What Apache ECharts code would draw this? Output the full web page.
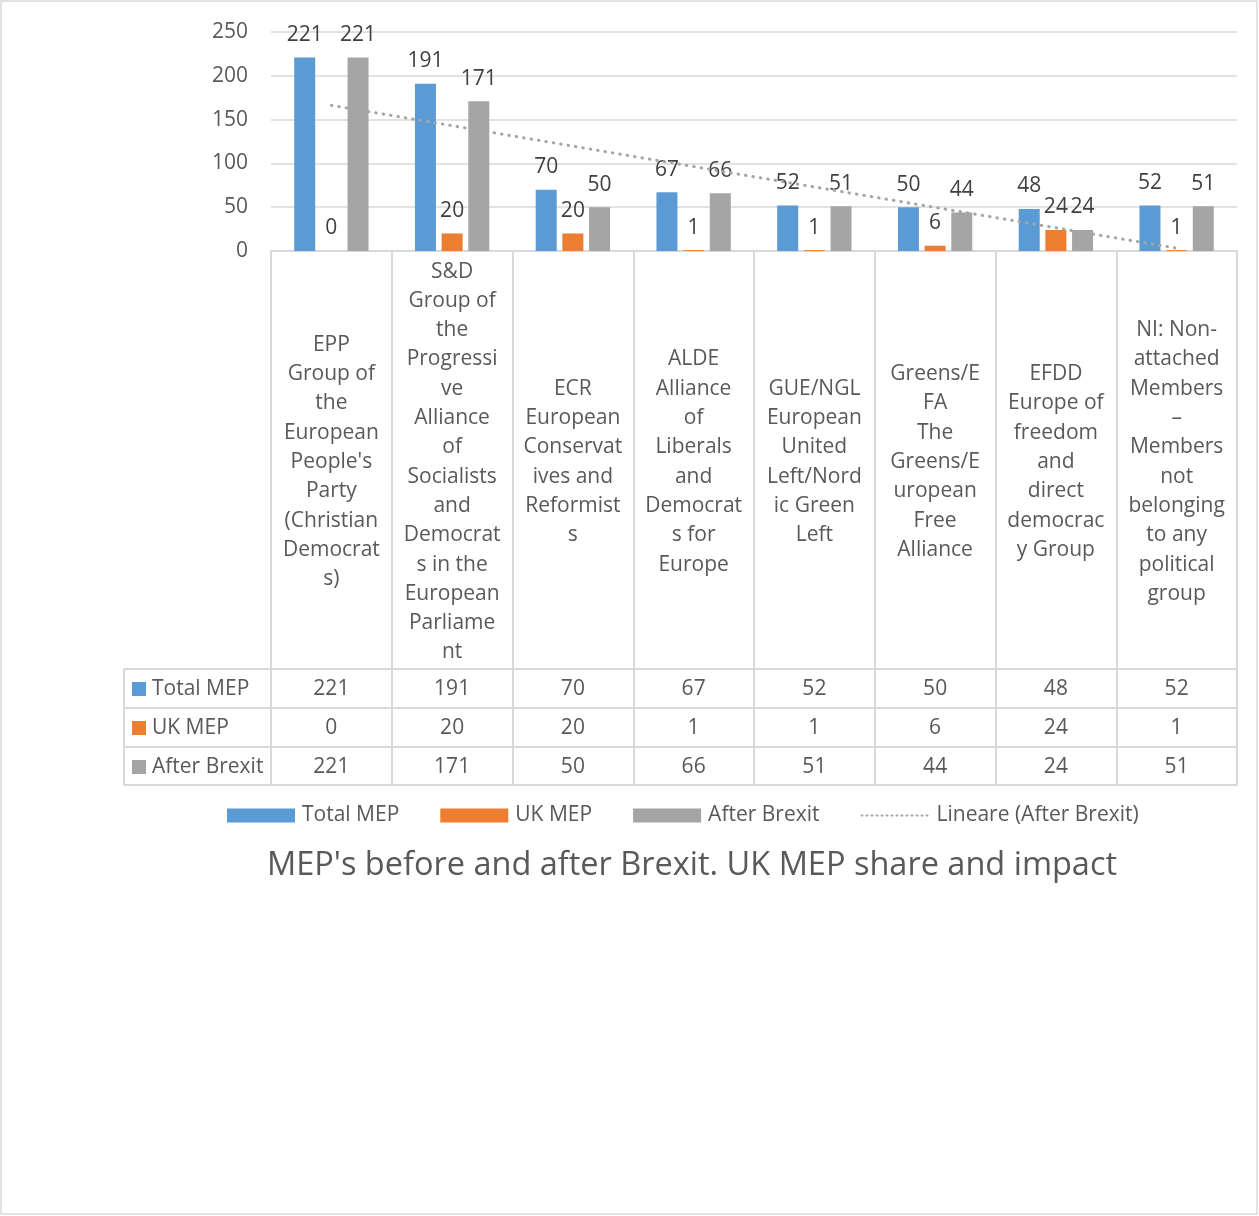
<!DOCTYPE html>
<html><head><meta charset="utf-8">
<script src="https://cdn.jsdelivr.net/npm/echarts@6/dist/echarts.min.js"></script>
<style>html,body{margin:0;padding:0;background:#fff}#c{width:1259px;height:1216px}</style>
</head><body><div id="c"></div>
<script>
const categories = [
  "EPP\nGroup of\nthe\nEuropean\nPeople's\nParty\n(Christian\nDemocrat\ns)",
  "S&D\nGroup of\nthe\nProgressi\nve\nAlliance\nof\nSocialists\nand\nDemocrat\ns in the\nEuropean\nParliame\nnt",
  "ECR\nEuropean\nConservat\nives and\nReformist\ns",
  "ALDE\nAlliance\nof\nLiberals\nand\nDemocrat\ns for\nEurope",
  "GUE/NGL\nEuropean\nUnited\nLeft/Nord\nic Green\nLeft",
  "Greens/E\nFA\nThe\nGreens/E\nuropean\nFree\nAlliance",
  "EFDD\nEurope of\nfreedom\nand\ndirect\ndemocrac\ny Group",
  "NI: Non-\nattached\nMembers\n–\nMembers\nnot\nbelonging\nto any\npolitical\ngroup"
];
const totalMep = [221, 191, 70, 67, 52, 50, 48, 52];
const ukMep = [0, 20, 20, 1, 1, 6, 24, 1];
const afterBrexit = [221, 171, 50, 66, 51, 44, 24, 51];
const seriesNames = ['Total MEP', 'UK MEP', 'After Brexit'];
const trendName = 'Lineare (After Brexit)';
const yTicks = [0, 50, 100, 150, 200, 250];

// least-squares linear trendline of After Brexit (Excel "Lineare" trendline)
const n = afterBrexit.length;
const xs = afterBrexit.map((_, i) => i + 1);
const mx = xs.reduce((a, b) => a + b, 0) / n;
const my = afterBrexit.reduce((a, b) => a + b, 0) / n;
let sxy = 0, sxx = 0;
xs.forEach((x, i) => { sxy += (x - mx) * (afterBrexit[i] - my); sxx += (x - mx) * (x - mx); });
const slope = sxy / sxx, icpt = my - slope * mx;
const trend = xs.map(x => +(icpt + slope * x).toFixed(3));

const colors = ['#5B9BD5', '#ED7D31', '#A5A5A5'];
const FONT = 'Open Sans';
const TXT = '#595959';
const LINE = '#D9D9D9';

const chart = echarts.init(document.getElementById('c'), null, {renderer: 'canvas'});

function rowAxis(data, off) {
  return {
    type: 'category', data: data.map(String), position: 'bottom', offset: off,
    axisLine: {show: false}, axisTick: {show: false}, splitLine: {show: false},
    axisLabel: {interval: 0, margin: 0, verticalAlign: 'middle', fontFamily: FONT, fontSize: 21, color: TXT}
  };
}

const rowY = [689, 728, 767];
const rowLinesY = [669, 708, 747, 785];
const graphics = [
  {type: 'rect', shape: {x: 1, y: 1, width: 1256, height: 1213}, style: {fill: 'none', stroke: LINE, lineWidth: 1.5}, silent: true},
  {type: 'line', shape: {x1: 124, y1: 669, x2: 124, y2: 785}, style: {stroke: LINE, lineWidth: 2}, silent: true},
  {type: 'text', x: 692, y: 866, style: {text: "MEP's before and after Brexit. UK MEP share and impact", fontFamily: FONT, fontSize: 32.5, fill: TXT, align: 'center', verticalAlign: 'middle'}, silent: true}
];
rowLinesY.forEach(y => graphics.push({type: 'line', shape: {x1: 124, y1: y, x2: 1237, y2: y}, style: {stroke: LINE, lineWidth: 2}, silent: true}));
seriesNames.forEach((nm, i) => {
  graphics.push({type: 'rect', shape: {x: 132, y: rowY[i] - 7, width: 14, height: 14}, style: {fill: colors[i]}, silent: true});
  graphics.push({type: 'text', x: 152, y: rowY[i], style: {text: nm, fontFamily: FONT, fontSize: 21, fill: TXT, verticalAlign: 'middle'}, silent: true});
});

const labelCfg = {show: true, position: 'top', distance: 12, fontFamily: FONT, fontSize: 21, color: '#404040'};

chart.setOption({
  animation: false,
  grid: {left: 271, right: 22, top: 32, bottom: 965, containLabel: false},
  legend: {
    left: 222, top: 800, itemWidth: 68, itemHeight: 14, itemGap: 41,
    textStyle: {fontFamily: FONT, fontSize: 21, color: TXT, padding: [0, 0, 0, 2]},
    data: [
      {name: seriesNames[0], icon: 'rect'},
      {name: seriesNames[1], icon: 'rect'},
      {name: seriesNames[2], icon: 'rect'},
      {name: trendName, itemStyle: {opacity: 0}, lineStyle: {width: 2, type: [1, 4], cap: 'round', color: '#A5A5A5'}}
    ]
  },
  xAxis: [
    {
      type: 'category', data: categories, boundaryGap: true,
      axisLine: {show: true, lineStyle: {color: LINE, width: 2}},
      axisTick: {show: true, interval: 0, length: 534, lineStyle: {color: LINE, width: 2}},
      axisLabel: {interval: 0, margin: 211, verticalAlign: 'middle', lineHeight: 29.3, fontFamily: FONT, fontSize: 21, color: TXT}
    },
    rowAxis(totalMep, 438),
    rowAxis(ukMep, 477),
    rowAxis(afterBrexit, 516)
  ],
  yAxis: {
    type: 'value', min: yTicks[0], max: yTicks[yTicks.length - 1], interval: 50,
    axisLine: {show: false}, axisTick: {show: false},
    splitLine: {lineStyle: {color: LINE, width: 1.5}},
    axisLabel: {margin: 23, fontFamily: FONT, fontSize: 21, color: TXT, lineHeight: 28, verticalAlign: 'middle', padding: [4, 0, 0, 0]}
  },
  series: [
    {name: seriesNames[0], type: 'bar', data: totalMep, barWidth: 21, barGap: '27%', itemStyle: {color: colors[0]}, label: labelCfg},
    {name: seriesNames[1], type: 'bar', data: ukMep, barWidth: 21, barGap: '27%', itemStyle: {color: colors[1]}, label: labelCfg},
    {name: seriesNames[2], type: 'bar', data: afterBrexit, barWidth: 21, barGap: '27%', itemStyle: {color: colors[2]}, label: labelCfg},
    {name: trendName, type: 'line', data: trend, symbol: 'none', showSymbol: false, z: 5,
      itemStyle: {color: '#A5A5A5'},
      lineStyle: {color: '#A5A5A5', width: 3, type: [0.5, 7], cap: 'round'}}
  ],
  graphic: graphics
});
</script></body></html>
